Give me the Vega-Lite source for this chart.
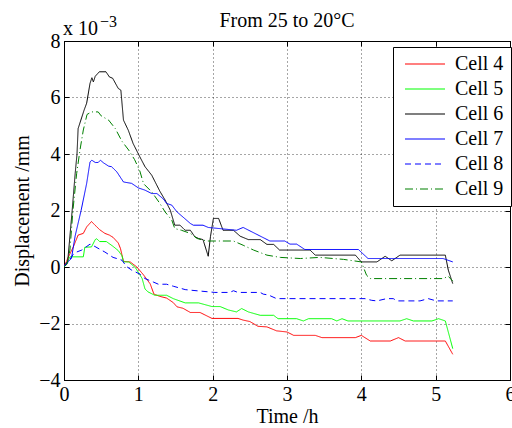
{
  "$schema": "https://vega.github.io/schema/vega-lite/v6.json",
  "width": 446,
  "height": 339,
  "autosize": {"type": "none"},
  "padding": {"left": 64, "top": 41, "right": 2, "bottom": 48},
  "background": "white",
  "title": {"text": "From 25 to 20°C", "fontSize": 20, "font": "Liberation Serif", "fontWeight": "normal", "offset": -17, "color": "#000"},
  "config": {
    "font": "Liberation Serif",
    "view": {"stroke": "#000", "strokeWidth": 1},
    "axis": {
      "labelFont": "Liberation Serif", "labelFontSize": 20, "labelColor": "#000",
      "titleFont": "Liberation Serif", "titleFontSize": 20, "titleColor": "#000", "titleFontWeight": "normal",
      "domainColor": "#000", "tickColor": "#000", "tickSize": -5, "labelFlush": false, "labelOverlap": false,
      "gridColor": "#000", "gridDash": [1, 3], "gridOpacity": 0.7
    },
    "legend": {"labelFont": "Liberation Serif", "labelFontSize": 20, "labelColor": "#000"}
  },
  "datasets": {
    "notes": [
      {"time": 0, "disp": 8, "label": "x 10", "size": "main"},
      {"time": 0, "disp": 8, "label": "−3", "size": "sup"}
    ],
    "d": [
      {"cell":"Cell 4","time":0,"disp":0},{"cell":"Cell 4","time":0.06,"disp":0.36},{"cell":"Cell 4","time":0.125,"disp":0.71},{"cell":"Cell 4","time":0.19,"disp":1.13},{"cell":"Cell 4","time":0.26,"disp":1.19},{"cell":"Cell 4","time":0.305,"disp":1.42},{"cell":"Cell 4","time":0.37,"disp":1.61},{"cell":"Cell 4","time":0.395,"disp":1.54},{"cell":"Cell 4","time":0.48,"disp":1.32},{"cell":"Cell 4","time":0.55,"disp":1.19},{"cell":"Cell 4","time":0.61,"disp":1.13},{"cell":"Cell 4","time":0.66,"disp":1.05},{"cell":"Cell 4","time":0.73,"disp":0.85},{"cell":"Cell 4","time":0.76,"disp":0.65},{"cell":"Cell 4","time":0.8,"disp":0.2},{"cell":"Cell 4","time":0.89,"disp":0.18},{"cell":"Cell 4","time":0.98,"disp":0.0},{"cell":"Cell 4","time":1.07,"disp":-0.28},{"cell":"Cell 4","time":1.16,"disp":-0.6},{"cell":"Cell 4","time":1.21,"disp":-0.96},{"cell":"Cell 4","time":1.29,"disp":-1.04},{"cell":"Cell 4","time":1.38,"disp":-1.1},{"cell":"Cell 4","time":1.47,"disp":-1.26},{"cell":"Cell 4","time":1.52,"disp":-1.41},{"cell":"Cell 4","time":1.6,"disp":-1.46},{"cell":"Cell 4","time":1.7,"disp":-1.61},{"cell":"Cell 4","time":1.83,"disp":-1.61},{"cell":"Cell 4","time":1.99,"disp":-1.82},{"cell":"Cell 4","time":2.34,"disp":-1.82},{"cell":"Cell 4","time":2.41,"disp":-1.88},{"cell":"Cell 4","time":2.5,"disp":-1.93},{"cell":"Cell 4","time":2.61,"disp":-2.1},{"cell":"Cell 4","time":2.73,"disp":-2.12},{"cell":"Cell 4","time":2.86,"disp":-2.26},{"cell":"Cell 4","time":3.0,"disp":-2.3},{"cell":"Cell 4","time":3.09,"disp":-2.42},{"cell":"Cell 4","time":3.38,"disp":-2.42},{"cell":"Cell 4","time":3.47,"disp":-2.5},{"cell":"Cell 4","time":3.92,"disp":-2.5},{"cell":"Cell 4","time":4.0,"disp":-2.42},{"cell":"Cell 4","time":4.12,"disp":-2.62},{"cell":"Cell 4","time":4.39,"disp":-2.62},{"cell":"Cell 4","time":4.5,"disp":-2.5},{"cell":"Cell 4","time":4.59,"disp":-2.62},{"cell":"Cell 4","time":5.13,"disp":-2.62},{"cell":"Cell 4","time":5.23,"disp":-3.09},
      {"cell":"Cell 5","time":0,"disp":0},{"cell":"Cell 5","time":0.03,"disp":0.1},{"cell":"Cell 5","time":0.08,"disp":0.36},{"cell":"Cell 5","time":0.26,"disp":0.36},{"cell":"Cell 5","time":0.28,"disp":0.7},{"cell":"Cell 5","time":0.37,"disp":0.71},{"cell":"Cell 5","time":0.42,"disp":0.97},{"cell":"Cell 5","time":0.44,"disp":1.0},{"cell":"Cell 5","time":0.48,"disp":0.9},{"cell":"Cell 5","time":0.57,"disp":0.9},{"cell":"Cell 5","time":0.66,"disp":0.73},{"cell":"Cell 5","time":0.73,"disp":0.58},{"cell":"Cell 5","time":0.78,"disp":0.4},{"cell":"Cell 5","time":0.8,"disp":0.18},{"cell":"Cell 5","time":0.87,"disp":0.18},{"cell":"Cell 5","time":0.96,"disp":-0.02},{"cell":"Cell 5","time":1.05,"disp":-0.4},{"cell":"Cell 5","time":1.09,"disp":-0.78},{"cell":"Cell 5","time":1.13,"disp":-0.88},{"cell":"Cell 5","time":1.22,"disp":-1.0},{"cell":"Cell 5","time":1.38,"disp":-1.0},{"cell":"Cell 5","time":1.47,"disp":-1.12},{"cell":"Cell 5","time":1.63,"disp":-1.27},{"cell":"Cell 5","time":1.81,"disp":-1.27},{"cell":"Cell 5","time":1.99,"disp":-1.4},{"cell":"Cell 5","time":2.1,"disp":-1.4},{"cell":"Cell 5","time":2.21,"disp":-1.52},{"cell":"Cell 5","time":2.32,"disp":-1.59},{"cell":"Cell 5","time":2.39,"disp":-1.47},{"cell":"Cell 5","time":2.48,"disp":-1.59},{"cell":"Cell 5","time":2.64,"disp":-1.71},{"cell":"Cell 5","time":2.82,"disp":-1.71},{"cell":"Cell 5","time":2.88,"disp":-1.83},{"cell":"Cell 5","time":3.13,"disp":-1.83},{"cell":"Cell 5","time":3.22,"disp":-1.91},{"cell":"Cell 5","time":3.29,"disp":-1.83},{"cell":"Cell 5","time":3.6,"disp":-1.83},{"cell":"Cell 5","time":3.67,"disp":-1.91},{"cell":"Cell 5","time":3.74,"disp":-1.83},{"cell":"Cell 5","time":3.82,"disp":-1.91},{"cell":"Cell 5","time":4.52,"disp":-1.91},{"cell":"Cell 5","time":4.61,"disp":-1.83},{"cell":"Cell 5","time":4.7,"disp":-1.91},{"cell":"Cell 5","time":4.95,"disp":-1.91},{"cell":"Cell 5","time":5.04,"disp":-1.83},{"cell":"Cell 5","time":5.13,"disp":-1.91},{"cell":"Cell 5","time":5.23,"disp":-2.89},
      {"cell":"Cell 6","time":0,"disp":0},{"cell":"Cell 6","time":0.05,"disp":0.2},{"cell":"Cell 6","time":0.11,"disp":2.0},{"cell":"Cell 6","time":0.15,"disp":3.3},{"cell":"Cell 6","time":0.175,"disp":4.0},{"cell":"Cell 6","time":0.19,"disp":4.9},{"cell":"Cell 6","time":0.27,"disp":5.55},{"cell":"Cell 6","time":0.305,"disp":5.8},{"cell":"Cell 6","time":0.35,"disp":6.5},{"cell":"Cell 6","time":0.375,"disp":6.7},{"cell":"Cell 6","time":0.395,"disp":6.55},{"cell":"Cell 6","time":0.42,"disp":6.75},{"cell":"Cell 6","time":0.475,"disp":6.91},{"cell":"Cell 6","time":0.565,"disp":6.91},{"cell":"Cell 6","time":0.61,"disp":6.73},{"cell":"Cell 6","time":0.655,"disp":6.68},{"cell":"Cell 6","time":0.73,"disp":6.32},{"cell":"Cell 6","time":0.765,"disp":6.26},{"cell":"Cell 6","time":0.8,"disp":5.2},{"cell":"Cell 6","time":0.865,"disp":4.84},{"cell":"Cell 6","time":0.93,"disp":4.37},{"cell":"Cell 6","time":1.02,"disp":3.9},{"cell":"Cell 6","time":1.09,"disp":3.55},{"cell":"Cell 6","time":1.18,"disp":3.25},{"cell":"Cell 6","time":1.29,"disp":2.68},{"cell":"Cell 6","time":1.36,"disp":2.37},{"cell":"Cell 6","time":1.43,"disp":2.01},{"cell":"Cell 6","time":1.49,"disp":1.48},{"cell":"Cell 6","time":1.56,"disp":1.48},{"cell":"Cell 6","time":1.63,"disp":1.3},{"cell":"Cell 6","time":1.7,"disp":1.3},{"cell":"Cell 6","time":1.76,"disp":1.07},{"cell":"Cell 6","time":1.81,"disp":1.01},{"cell":"Cell 6","time":1.87,"disp":0.97},{"cell":"Cell 6","time":1.94,"disp":0.38},{"cell":"Cell 6","time":1.97,"disp":1.07},{"cell":"Cell 6","time":2.01,"disp":1.72},{"cell":"Cell 6","time":2.08,"disp":1.72},{"cell":"Cell 6","time":2.14,"disp":1.3},{"cell":"Cell 6","time":2.28,"disp":1.3},{"cell":"Cell 6","time":2.37,"disp":1.09},{"cell":"Cell 6","time":2.48,"disp":0.97},{"cell":"Cell 6","time":2.64,"disp":0.97},{"cell":"Cell 6","time":2.73,"disp":0.8},{"cell":"Cell 6","time":2.82,"disp":0.8},{"cell":"Cell 6","time":2.9,"disp":0.6},{"cell":"Cell 6","time":3.31,"disp":0.6},{"cell":"Cell 6","time":3.38,"disp":0.42},{"cell":"Cell 6","time":3.92,"disp":0.42},{"cell":"Cell 6","time":4.0,"disp":0.18},{"cell":"Cell 6","time":4.21,"disp":0.18},{"cell":"Cell 6","time":4.32,"disp":0.38},{"cell":"Cell 6","time":4.41,"disp":0.22},{"cell":"Cell 6","time":4.52,"disp":0.42},{"cell":"Cell 6","time":5.13,"disp":0.42},{"cell":"Cell 6","time":5.17,"disp":-0.11},{"cell":"Cell 6","time":5.23,"disp":-0.59},
      {"cell":"Cell 7","time":0,"disp":0},{"cell":"Cell 7","time":0.02,"disp":0.1},{"cell":"Cell 7","time":0.1,"disp":0.3},{"cell":"Cell 7","time":0.15,"disp":1.1},{"cell":"Cell 7","time":0.23,"disp":2.0},{"cell":"Cell 7","time":0.305,"disp":2.96},{"cell":"Cell 7","time":0.35,"disp":3.72},{"cell":"Cell 7","time":0.375,"disp":3.78},{"cell":"Cell 7","time":0.42,"disp":3.7},{"cell":"Cell 7","time":0.46,"disp":3.7},{"cell":"Cell 7","time":0.49,"disp":3.78},{"cell":"Cell 7","time":0.53,"disp":3.69},{"cell":"Cell 7","time":0.6,"disp":3.57},{"cell":"Cell 7","time":0.64,"disp":3.55},{"cell":"Cell 7","time":0.71,"disp":3.37},{"cell":"Cell 7","time":0.8,"disp":3.01},{"cell":"Cell 7","time":0.91,"disp":2.96},{"cell":"Cell 7","time":1.0,"disp":2.8},{"cell":"Cell 7","time":1.09,"disp":2.72},{"cell":"Cell 7","time":1.18,"disp":2.6},{"cell":"Cell 7","time":1.25,"disp":2.6},{"cell":"Cell 7","time":1.34,"disp":2.4},{"cell":"Cell 7","time":1.38,"disp":2.25},{"cell":"Cell 7","time":1.45,"disp":2.19},{"cell":"Cell 7","time":1.52,"disp":1.95},{"cell":"Cell 7","time":1.6,"disp":1.77},{"cell":"Cell 7","time":1.7,"disp":1.54},{"cell":"Cell 7","time":1.74,"disp":1.48},{"cell":"Cell 7","time":1.87,"disp":1.48},{"cell":"Cell 7","time":1.94,"disp":1.4},{"cell":"Cell 7","time":2.32,"disp":1.3},{"cell":"Cell 7","time":2.41,"disp":1.4},{"cell":"Cell 7","time":2.53,"disp":1.24},{"cell":"Cell 7","time":2.77,"disp":0.92},{"cell":"Cell 7","time":2.97,"disp":0.92},{"cell":"Cell 7","time":3.04,"disp":0.81},{"cell":"Cell 7","time":3.13,"disp":0.81},{"cell":"Cell 7","time":3.24,"disp":0.62},{"cell":"Cell 7","time":3.96,"disp":0.62},{"cell":"Cell 7","time":4.09,"disp":0.3},{"cell":"Cell 7","time":5.1,"disp":0.3},{"cell":"Cell 7","time":5.23,"disp":0.18},
      {"cell":"Cell 8","time":0,"disp":0},{"cell":"Cell 8","time":0.05,"disp":0.15},{"cell":"Cell 8","time":0.125,"disp":0.45},{"cell":"Cell 8","time":0.17,"disp":0.53},{"cell":"Cell 8","time":0.24,"disp":0.6},{"cell":"Cell 8","time":0.35,"disp":0.81},{"cell":"Cell 8","time":0.4,"disp":0.75},{"cell":"Cell 8","time":0.48,"disp":0.63},{"cell":"Cell 8","time":0.55,"disp":0.53},{"cell":"Cell 8","time":0.66,"disp":0.34},{"cell":"Cell 8","time":0.71,"disp":0.3},{"cell":"Cell 8","time":0.78,"disp":0.24},{"cell":"Cell 8","time":0.84,"disp":0.02},{"cell":"Cell 8","time":0.91,"disp":-0.11},{"cell":"Cell 8","time":1.02,"disp":-0.25},{"cell":"Cell 8","time":1.09,"disp":-0.41},{"cell":"Cell 8","time":1.2,"disp":-0.53},{"cell":"Cell 8","time":1.27,"disp":-0.61},{"cell":"Cell 8","time":1.38,"disp":-0.61},{"cell":"Cell 8","time":1.47,"disp":-0.68},{"cell":"Cell 8","time":1.63,"disp":-0.8},{"cell":"Cell 8","time":1.7,"disp":-0.82},{"cell":"Cell 8","time":2.03,"disp":-0.9},{"cell":"Cell 8","time":2.23,"disp":-0.9},{"cell":"Cell 8","time":2.28,"disp":-0.84},{"cell":"Cell 8","time":2.34,"disp":-0.9},{"cell":"Cell 8","time":2.64,"disp":-0.9},{"cell":"Cell 8","time":2.68,"disp":-0.96},{"cell":"Cell 8","time":2.75,"disp":-0.99},{"cell":"Cell 8","time":2.86,"disp":-1.12},{"cell":"Cell 8","time":4.05,"disp":-1.12},{"cell":"Cell 8","time":4.14,"disp":-1.18},{"cell":"Cell 8","time":4.21,"disp":-1.2},{"cell":"Cell 8","time":4.34,"disp":-1.12},{"cell":"Cell 8","time":4.43,"disp":-1.12},{"cell":"Cell 8","time":4.48,"disp":-1.2},{"cell":"Cell 8","time":4.79,"disp":-1.2},{"cell":"Cell 8","time":4.9,"disp":-1.12},{"cell":"Cell 8","time":5.01,"disp":-1.2},{"cell":"Cell 8","time":5.23,"disp":-1.2},
      {"cell":"Cell 9","time":0,"disp":0},{"cell":"Cell 9","time":0.04,"disp":0.1},{"cell":"Cell 9","time":0.08,"disp":0.6},{"cell":"Cell 9","time":0.12,"disp":2.0},{"cell":"Cell 9","time":0.17,"disp":3.3},{"cell":"Cell 9","time":0.215,"disp":4.14},{"cell":"Cell 9","time":0.26,"disp":4.85},{"cell":"Cell 9","time":0.31,"disp":5.4},{"cell":"Cell 9","time":0.37,"disp":5.49},{"cell":"Cell 9","time":0.46,"disp":5.49},{"cell":"Cell 9","time":0.5,"disp":5.35},{"cell":"Cell 9","time":0.6,"disp":5.2},{"cell":"Cell 9","time":0.69,"disp":4.9},{"cell":"Cell 9","time":0.78,"disp":4.45},{"cell":"Cell 9","time":0.87,"disp":4.14},{"cell":"Cell 9","time":0.95,"disp":3.8},{"cell":"Cell 9","time":1.02,"disp":3.4},{"cell":"Cell 9","time":1.07,"disp":2.95},{"cell":"Cell 9","time":1.18,"disp":2.66},{"cell":"Cell 9","time":1.29,"disp":2.25},{"cell":"Cell 9","time":1.36,"disp":1.95},{"cell":"Cell 9","time":1.45,"disp":1.66},{"cell":"Cell 9","time":1.49,"disp":1.36},{"cell":"Cell 9","time":1.58,"disp":1.3},{"cell":"Cell 9","time":1.7,"disp":1.19},{"cell":"Cell 9","time":1.79,"disp":1.01},{"cell":"Cell 9","time":1.87,"disp":0.95},{"cell":"Cell 9","time":1.94,"disp":0.92},{"cell":"Cell 9","time":2.28,"disp":0.92},{"cell":"Cell 9","time":2.41,"disp":0.77},{"cell":"Cell 9","time":2.55,"disp":0.6},{"cell":"Cell 9","time":2.73,"disp":0.42},{"cell":"Cell 9","time":2.91,"disp":0.34},{"cell":"Cell 9","time":3.18,"disp":0.3},{"cell":"Cell 9","time":3.44,"disp":0.34},{"cell":"Cell 9","time":3.76,"disp":0.27},{"cell":"Cell 9","time":4.0,"disp":0.18},{"cell":"Cell 9","time":4.07,"disp":-0.29},{"cell":"Cell 9","time":4.12,"disp":-0.41},{"cell":"Cell 9","time":5.1,"disp":-0.41},{"cell":"Cell 9","time":5.17,"disp":-0.33},{"cell":"Cell 9","time":5.23,"disp":-0.5}
    ]
  },
  "layer": [
    {
      "data": {"name": "d"},
      "mark": {"type": "line", "strokeWidth": 1, "clip": true},
      "encoding": {
        "x": {"field": "time", "type": "quantitative", "scale": {"domain": [0, 6], "nice": false, "zero": false},
              "axis": {"title": "Time /h", "values": [0,1,2,3,4,5,6], "grid": true, "labelPadding": 9, "titlePadding": 2}},
        "y": {"field": "disp", "type": "quantitative", "scale": {"domain": [-4, 8], "nice": false, "zero": false},
              "axis": {"title": "Displacement /mm", "values": [-4,-2,0,2,4,6,8], "grid": true, "labelPadding": 9, "titlePadding": 6}},
        "color": {"field": "cell", "type": "nominal",
                  "scale": {"domain": ["Cell 4","Cell 5","Cell 6","Cell 7","Cell 8","Cell 9"], "range": ["#ff0000","#00ff00","#000000","#0000ff","#0000ff","#008000"]},
                  "legend": {"title": null, "orient": "none", "legendX": 329, "legendY": 6, "fillColor": "white", "strokeColor": "#000",
                             "padding": 7, "rowPadding": 5, "symbolType": "M-1,0H7", "symbolSize": 100, "labelOffset": 35, "symbolStrokeWidth": 1.2}},
        "strokeDash": {"field": "cell", "type": "nominal",
                  "scale": {"domain": ["Cell 4","Cell 5","Cell 6","Cell 7","Cell 8","Cell 9"], "range": [[1,0],[1,0],[1,0],[1,0],[6,4],[8,3,1,3]]},
                  "legend": {"title": null, "orient": "none", "legendX": 329, "legendY": 6, "fillColor": "white", "strokeColor": "#000",
                             "padding": 7, "rowPadding": 5, "symbolType": "M-1,0H7", "symbolSize": 100, "labelOffset": 35, "symbolStrokeWidth": 1.2}}
      }
    },
    {
      "data": {"name": "notes"},
      "transform": [{"filter": "datum.size == 'main'"}],
      "mark": {"type": "text", "align": "left", "baseline": "alphabetic", "fontSize": 20, "font": "Liberation Serif", "dx": -1, "dy": -6, "fill": "#000"},
      "encoding": {"x": {"field": "time", "type": "quantitative", "axis": null}, "y": {"field": "disp", "type": "quantitative", "axis": null}, "text": {"field": "label"}}
    },
    {
      "data": {"name": "notes"},
      "transform": [{"filter": "datum.size == 'sup'"}],
      "mark": {"type": "text", "align": "left", "baseline": "alphabetic", "fontSize": 16, "font": "Liberation Serif", "dx": 36, "dy": -14, "fill": "#000"},
      "encoding": {"x": {"field": "time", "type": "quantitative", "axis": null}, "y": {"field": "disp", "type": "quantitative", "axis": null}, "text": {"field": "label"}}
    },
    {
      "data": {"name": "notes"},
      "mark": {"type": "point", "opacity": 0},
      "encoding": {
        "x": {"field": "time", "type": "quantitative", "axis": {"orient": "top", "values": [0,1,2,3,4,5,6], "labels": false, "title": null, "grid": false}},
        "y": {"field": "disp", "type": "quantitative", "axis": {"orient": "right", "values": [-4,-2,0,2,4,6,8], "labels": false, "title": null, "grid": false}}
      }
    }
  ],
  "resolve": {"axis": {"x": "independent", "y": "independent"}}
}
